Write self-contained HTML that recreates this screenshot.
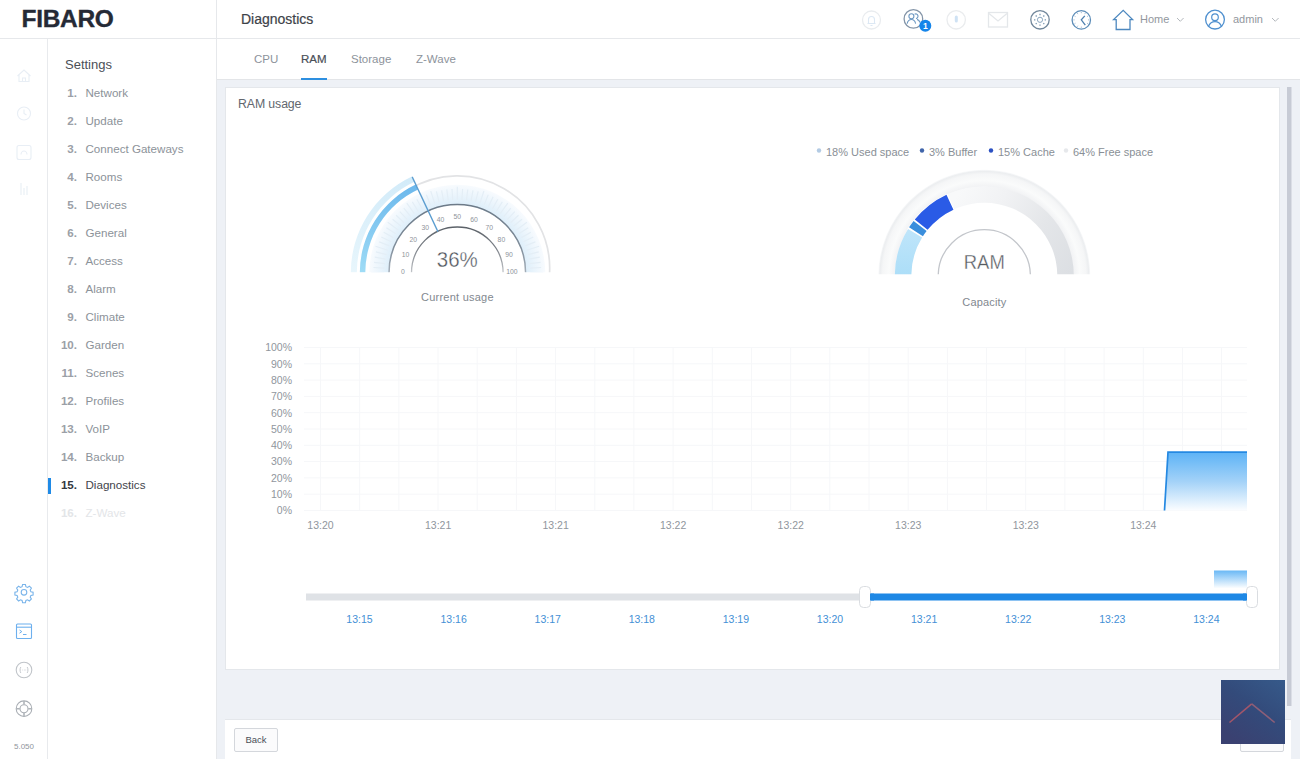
<!DOCTYPE html>
<html><head><meta charset="utf-8">
<style>
*{box-sizing:border-box;margin:0;padding:0}
html,body{width:1300px;height:759px;overflow:hidden;background:#fff;font-family:"Liberation Sans",sans-serif;color:#4b5058}
.abs{position:absolute}
#hdr{position:absolute;left:0;top:0;width:1300px;height:39px;border-bottom:1px solid #e6e8eb;background:#fff}
#logo{position:absolute;left:21.5px;top:5px;font-size:24.5px;font-weight:bold;color:#252a36;letter-spacing:-0.3px;-webkit-text-stroke:0.35px #252a36}
#rail{position:absolute;left:0;top:39px;width:48px;height:720px;border-right:1px solid #e8eaed;background:#fff}
#menu{position:absolute;left:48px;top:39px;width:169px;height:720px;border-right:1px solid #e6e8eb;background:#fff}
#main{position:absolute;left:217px;top:39px;width:1083px;height:720px;background:#eef1f6}
#tabs{position:absolute;left:0;top:0;width:1083px;height:41px;background:#fff;border-bottom:1px solid #e3e5e8}
.tab{position:absolute;top:14px;font-size:11.5px;color:#8d939b}
#card{position:absolute;left:8px;top:48px;width:1055px;height:583px;background:#fff;border:1px solid #e4e7eb}
#foot{position:absolute;left:8px;top:680px;width:1066px;height:41px;background:#fff;border-top:1px solid #e4e7eb}
.mi{position:absolute;left:0;width:160px;height:16px;font-size:11.6px;color:#8c9299;white-space:nowrap}
.mi b{position:absolute;right:131px;top:0;font-weight:bold;color:#9ba0a7}
.mi span{position:absolute;left:37.5px;top:0}
svg{position:absolute;left:0;top:0}
.hi{position:absolute}
</style></head><body>
<div id="hdr">
  <div id="logo">FIBARO</div>
  <div class="abs" style="left:216px;top:0;width:1px;height:39px;background:#e6e8eb"></div>
  <div class="abs" style="left:241px;top:11px;font-size:14px;color:#3d4249;-webkit-text-stroke:0.2px #3d4249">Diagnostics</div>
  <div class="abs" style="left:1140px;top:13px;font-size:11px;color:#92979e">Home</div>
  <div class="abs" style="left:1233px;top:13px;font-size:11px;color:#92979e">admin</div>
</div>
<div id="rail"></div>
<div id="menu">
  <div class="abs" style="left:17px;top:18px;font-size:13px;color:#4b5058">Settings</div>
  <div class="mi" style="top:47px"><b>1.</b><span>Network</span></div>
  <div class="mi" style="top:75px"><b>2.</b><span>Update</span></div>
  <div class="mi" style="top:103px"><b>3.</b><span>Connect Gateways</span></div>
  <div class="mi" style="top:131px"><b>4.</b><span>Rooms</span></div>
  <div class="mi" style="top:159px"><b>5.</b><span>Devices</span></div>
  <div class="mi" style="top:187px"><b>6.</b><span>General</span></div>
  <div class="mi" style="top:215px"><b>7.</b><span>Access</span></div>
  <div class="mi" style="top:243px"><b>8.</b><span>Alarm</span></div>
  <div class="mi" style="top:271px"><b>9.</b><span>Climate</span></div>
  <div class="mi" style="top:299px"><b>10.</b><span>Garden</span></div>
  <div class="mi" style="top:327px"><b>11.</b><span>Scenes</span></div>
  <div class="mi" style="top:355px"><b>12.</b><span>Profiles</span></div>
  <div class="mi" style="top:383px"><b>13.</b><span>VoIP</span></div>
  <div class="mi" style="top:411px"><b>14.</b><span>Backup</span></div>
  <div class="mi" style="top:439px;color:#3f444b"><b style="color:#33383f">15.</b><span>Diagnostics</span></div>
  <div class="abs" style="left:0;top:439px;width:2.5px;height:16px;background:#1f8ae6"></div>
  <div class="mi" style="top:467px;color:#e3e5e8"><b style="color:#e3e5e8">16.</b><span>Z-Wave</span></div>
</div>
<div id="main">
  <div id="tabs">
    <div class="tab" style="left:37px">CPU</div>
    <div class="tab" style="left:84px;color:#4a4f57;-webkit-text-stroke:0.2px #4a4f57">RAM</div>
    <div class="abs" style="left:84px;top:39px;width:26px;height:2px;background:#2d8fe0"></div>
    <div class="tab" style="left:134px">Storage</div>
    <div class="tab" style="left:199px">Z-Wave</div>
  </div>
  <div id="card">
    <div class="abs" style="left:12px;top:9px;font-size:12.3px;color:#62676e;letter-spacing:-0.1px">RAM usage</div>
  </div>
  <div id="foot">
    <div class="abs" style="left:9px;top:8px;width:44px;height:24px;border:1px solid #d4d7dc;border-radius:2px;background:#fbfbfc;font-size:9.5px;color:#4b5058;text-align:center;line-height:22px">Back</div>
    <div class="abs" style="left:1015px;top:8px;width:44px;height:24px;border:1px solid #d4d7dc;border-radius:2px;background:#fbfbfc"></div>
  </div>
</div>
<svg width="1300" height="759" viewBox="0 0 1300 759" font-family="Liberation Sans, sans-serif">
<g clip-path="url(#clipL)"><defs><radialGradient id="gl1" gradientUnits="userSpaceOnUse" cx="457.3" cy="272.8" r="88"><stop offset="0.77" stop-color="#ddeefa"/><stop offset="0.87" stop-color="#e9f4fc"/><stop offset="1" stop-color="#f8fbfe"/></radialGradient><linearGradient id="gl2" x1="0" y1="1" x2="0" y2="0"><stop offset="0" stop-color="#9fdcf6"/><stop offset="1" stop-color="#6cb8ec"/></linearGradient><linearGradient id="gl3" x1="0" y1="1" x2="0" y2="0"><stop offset="0" stop-color="#e8f6fc"/><stop offset="1" stop-color="#d2ebf9"/></linearGradient></defs><path d="M369.30 272.80A88 88 0 0 1 545.30 272.80L525.30 272.80A68 68 0 0 0 389.30 272.80Z" fill="url(#gl1)"/><path d="M408.34 189.94A92.4 92.4 0 0 1 549.57 273.14" fill="none" stroke="#e2e3e5" stroke-width="1.7"/><path d="M350.80 272.80A106.5 106.5 0 0 1 411.95 176.44L414.51 181.86A100.5 100.5 0 0 0 356.80 272.80Z" fill="url(#gl3)"/><path d="M359.80 272.80A97.5 97.5 0 0 1 415.79 184.58L418.13 189.56A92 92 0 0 0 365.30 272.80Z" fill="url(#gl2)"/><path d="M384.3 272.8L371.3 272.8 M384.4 268.2L373.5 267.5 M384.9 263.7L374.0 262.3 M385.6 259.1L374.8 257.1 M386.6 254.6L375.9 251.9 M387.9 250.2L375.5 246.2 M389.4 245.9L379.2 241.9 M391.2 241.7L381.3 237.0 M393.3 237.6L383.7 232.3 M395.7 233.7L386.4 227.8 M398.2 229.9L387.7 222.3 M401.1 226.3L392.6 219.3 M404.1 222.8L396.1 215.3 M407.3 219.6L399.8 211.6 M410.8 216.6L403.8 208.1 M414.4 213.7L406.8 203.2 M418.2 211.2L412.3 201.9 M422.1 208.8L416.8 199.2 M426.2 206.7L421.5 196.8 M430.4 204.9L426.4 194.7 M434.7 203.4L430.7 191.0 M439.1 202.1L436.4 191.4 M443.6 201.1L441.6 190.3 M448.2 200.4L446.8 189.5 M452.7 199.9L452.0 189.0 M457.3 199.8L457.3 186.8 M461.9 199.9L462.6 189.0 M466.4 200.4L467.8 189.5 M471.0 201.1L473.0 190.3 M475.5 202.1L478.2 191.4 M479.9 203.4L483.9 191.0 M484.2 204.9L488.2 194.7 M488.4 206.7L493.1 196.8 M492.5 208.8L497.8 199.2 M496.4 211.2L502.3 201.9 M500.2 213.7L507.8 203.2 M503.8 216.6L510.8 208.1 M507.3 219.6L514.8 211.6 M510.5 222.8L518.5 215.3 M513.5 226.3L522.0 219.3 M516.4 229.9L526.9 222.3 M518.9 233.7L528.2 227.8 M521.3 237.6L530.9 232.3 M523.4 241.7L533.3 237.0 M525.2 245.9L535.4 241.9 M526.7 250.2L539.1 246.2 M528.0 254.6L538.7 251.9 M529.0 259.1L539.8 257.1 M529.7 263.7L540.6 262.3 M530.2 268.2L541.1 267.5 M530.3 272.8L543.3 272.8" stroke="#e4eef6" stroke-width="1.2"/><path d="M389.00 272.80A68.3 68.3 0 0 1 525.60 272.80" fill="none" stroke="url(#gdr)" stroke-width="1.5"/><defs><linearGradient id="gir" gradientUnits="userSpaceOnUse" x1="0" y1="227" x2="0" y2="273"><stop offset="0" stop-color="#5b6168"/><stop offset="0.5" stop-color="#80858c"/><stop offset="1" stop-color="#c3c6ca"/></linearGradient><linearGradient id="gdr" gradientUnits="userSpaceOnUse" x1="0" y1="204" x2="0" y2="273"><stop offset="0" stop-color="#6c7a88"/><stop offset="0.6" stop-color="#7f8c99"/><stop offset="1" stop-color="#a5afb9"/></linearGradient><clipPath id="clipL"><rect x="300" y="150" width="320" height="122.3"/></clipPath><clipPath id="clipR"><rect x="850" y="150" width="280" height="124.2"/></clipPath></defs><path d="M411.50 272.80A45.8 45.8 0 0 1 503.10 272.80" fill="none" stroke="url(#gir)" stroke-width="1.3"/><path d="M412.2 176.9L437.9 231.6" stroke="#5b9dd0" stroke-width="1.3"/></g><g font-size="6.8" fill="#8e949a" text-anchor="middle"><text x="402.8" y="273.8">0</text><text x="405.5" y="257.0">10</text><text x="413.2" y="241.8">20</text><text x="425.3" y="229.7">30</text><text x="440.5" y="222.0">40</text><text x="457.3" y="219.3">50</text><text x="474.1" y="222.0">60</text><text x="489.3" y="229.7">70</text><text x="501.4" y="241.8">80</text><text x="509.1" y="257.0">90</text><text x="511.8" y="273.8">100</text></g><text x="457.3" y="266.6" font-size="22" fill="#50555c" stroke="#fff" stroke-width="0.35" text-anchor="middle" textLength="41" lengthAdjust="spacingAndGlyphs">36%</text><text x="457.3" y="301.3" font-size="11" fill="#82888f" text-anchor="middle" textLength="72.5" lengthAdjust="spacing">Current usage</text>
<g clip-path="url(#clipR)"><defs><linearGradient id="gr1" gradientUnits="userSpaceOnUse" x1="960" y1="190" x2="1078" y2="260"><stop offset="0" stop-color="#f8f9fa"/><stop offset="0.3" stop-color="#f1f2f4"/><stop offset="0.65" stop-color="#e4e6e9"/><stop offset="1" stop-color="#dcdfe3"/></linearGradient><radialGradient id="gr2" gradientUnits="userSpaceOnUse" cx="984.3" cy="275.8" r="106"><stop offset="0.84" stop-color="#f1f2f4"/><stop offset="0.9" stop-color="#fafbfb"/><stop offset="0.96" stop-color="#f5f6f7"/><stop offset="0.985" stop-color="#eceef0"/><stop offset="1" stop-color="#f9fafb"/></radialGradient><linearGradient id="gr3" x1="0" y1="1" x2="0" y2="0"><stop offset="0" stop-color="#acdef8"/><stop offset="1" stop-color="#bfe5fa"/></linearGradient></defs><path d="M878.30 275.80A106 106 0 0 1 1090.30 275.80L1073.30 275.80A89 89 0 0 0 895.30 275.80Z" fill="url(#gr2)"/><path d="M894.80 275.80A89.5 89.5 0 0 1 1073.80 275.80L1057.30 275.80A73 73 0 0 0 911.30 275.80Z" fill="url(#gr1)"/><path d="M906.99 229.72A90 90 0 0 1 947.41 193.71L954.58 209.67A72.5 72.5 0 0 0 922.03 238.68Z" fill="#fff"/><path d="M894.80 275.80A89.5 89.5 0 0 1 908.07 228.90L922.12 237.55A73 73 0 0 0 911.30 275.80Z" fill="url(#gr3)"/><path d="M909.07 227.32A89.5 89.5 0 0 1 913.58 220.94L926.62 231.06A73 73 0 0 0 922.94 236.26Z" fill="#3a8edc"/><path d="M914.75 219.48A89.5 89.5 0 0 1 946.48 194.69L953.45 209.64A73 73 0 0 0 927.57 229.86Z" fill="#2a5be6"/><path d="M938.20 275.80A46.1 46.1 0 0 1 1030.40 275.80" fill="none" stroke="#c3c6cb" stroke-width="1.3"/></g><text x="984.3" y="268.9" font-size="21" fill="#565b62" stroke="#fff" stroke-width="0.35" text-anchor="middle" textLength="41" lengthAdjust="spacingAndGlyphs">RAM</text><text x="984.3" y="305.5" font-size="11" fill="#82888f" text-anchor="middle" textLength="44" lengthAdjust="spacing">Capacity</text><circle cx="819" cy="150.5" r="2.2" fill="#b3cbe4"/><text x="826" y="156" font-size="11" fill="#898f96">18% Used space</text><circle cx="922" cy="150.5" r="2.2" fill="#4065aa"/><text x="929" y="156" font-size="11" fill="#898f96">3% Buffer</text><circle cx="991" cy="150.5" r="2.2" fill="#2b50c2"/><text x="998" y="156" font-size="11" fill="#898f96">15% Cache</text><circle cx="1066" cy="150.5" r="2.2" fill="#e6e8eb"/><text x="1073" y="156" font-size="11" fill="#898f96">64% Free space</text>
<path d="M304 510.5H1247 M304 494.2H1247 M304 477.9H1247 M304 461.6H1247 M304 445.3H1247 M304 429.0H1247 M304 412.7H1247 M304 396.4H1247 M304 380.1H1247 M304 363.8H1247 M304 347.5H1247 M320.5 347V510 M359.7 347V510 M398.9 347V510 M438.0 347V510 M477.2 347V510 M516.4 347V510 M555.6 347V510 M594.8 347V510 M633.9 347V510 M673.1 347V510 M712.3 347V510 M751.5 347V510 M790.7 347V510 M829.8 347V510 M869.0 347V510 M908.2 347V510 M947.4 347V510 M986.6 347V510 M1025.7 347V510 M1064.9 347V510 M1104.1 347V510 M1143.3 347V510 M1182.5 347V510 M1221.6 347V510" stroke="#f6f7f9" stroke-width="1" fill="none"/><g font-size="10.5" fill="#90969d" text-anchor="end"><text x="292" y="514.3">0%</text><text x="292" y="498.0">10%</text><text x="292" y="481.7">20%</text><text x="292" y="465.4">30%</text><text x="292" y="449.1">40%</text><text x="292" y="432.8">50%</text><text x="292" y="416.5">60%</text><text x="292" y="400.2">70%</text><text x="292" y="383.9">80%</text><text x="292" y="367.6">90%</text><text x="292" y="351.3">100%</text></g><g font-size="10.5" fill="#90969d" text-anchor="middle"><text x="320.5" y="529">13:20</text><text x="438.1" y="529">13:21</text><text x="555.6" y="529">13:21</text><text x="673.1" y="529">13:22</text><text x="790.7" y="529">13:22</text><text x="908.2" y="529">13:23</text><text x="1025.8" y="529">13:23</text><text x="1143.3" y="529">13:24</text></g><defs><linearGradient id="cg" x1="0" y1="0" x2="0" y2="1"><stop offset="0" stop-color="#5db3f6"/><stop offset="0.5" stop-color="#a3d2f8"/><stop offset="1" stop-color="#fbfdff"/></linearGradient></defs><path d="M1164.5 510.5L1168 452.2H1247V510.5Z" fill="url(#cg)"/><path d="M1164.5 510.5L1168 452.2H1247" fill="none" stroke="#2589e2" stroke-width="1.7"/><defs><linearGradient id="ng" x1="0" y1="0" x2="0" y2="1"><stop offset="0" stop-color="#6ab8f5"/><stop offset="1" stop-color="#ffffff"/></linearGradient></defs><rect x="1214" y="570.5" width="33" height="18" fill="url(#ng)"/><rect x="306" y="593.5" width="556" height="7" fill="#dfe2e6"/><rect x="866" y="593.5" width="381" height="7" fill="#1e88e5"/><rect x="859.5" y="586.5" width="11" height="21" rx="4" fill="#fff" stroke="#dadde1"/><rect x="870" y="593.5" width="4" height="7" fill="#1e88e5"/><rect x="1246.5" y="586.5" width="11" height="21" rx="4" fill="#fff" stroke="#dadde1"/><rect x="1243" y="593.5" width="4" height="7" fill="#1e88e5"/><g font-size="10.5" fill="#4490d6" text-anchor="middle"><text x="359.5" y="623">13:15</text><text x="453.6" y="623">13:16</text><text x="547.7" y="623">13:17</text><text x="641.8" y="623">13:18</text><text x="735.9" y="623">13:19</text><text x="830.0" y="623">13:20</text><text x="924.1" y="623">13:21</text><text x="1018.2" y="623">13:22</text><text x="1112.3" y="623">13:23</text><text x="1206.4" y="623">13:24</text></g>
</svg>
<svg width="1300" height="759" viewBox="0 0 1300 759" style="z-index:2">
<!-- header icons -->
<g fill="none" stroke-width="1.3">
 <circle cx="871.5" cy="20" r="9" stroke="#e9ecef"/>
 <path d="M867.5 23.5h8M868.5 23.5v-4a3 3 0 0 1 6 0v4M870.5 25.5h2" stroke="#dce8f4" stroke-width="1.1"/>
 <circle cx="913.4" cy="18.9" r="9.3" stroke="#8495a8"/>
 <circle cx="911.4" cy="16.3" r="2.5" stroke="#6d98c2" stroke-width="1.1"/>
 <path d="M907.2 23.6c0.5-2.6 2.1-4.1 4.2-4.1s3.7 1.5 4.2 4.1M914.6 14.2a2.3 2.3 0 1 1 1.4 4.3M917 19.4c1.5 0.4 2.5 1.4 3 3.1" stroke="#6d98c2" stroke-width="1.1"/>
 <circle cx="925.3" cy="25.8" r="6" fill="#1585ea" stroke="none"/>
 <circle cx="956.2" cy="19.8" r="9.2" stroke="#eaecee"/>
 <rect x="954.8" y="15.5" width="3" height="7" rx="1.5" fill="#cfe2f4" stroke="none"/>
 <rect x="988.5" y="12.5" width="19" height="14.5" stroke="#e4e7ea"/>
 <path d="M989 13.5l9 7.5l9-7.5" stroke="#e4e7ea"/>
 <circle cx="1040" cy="19.8" r="9.2" stroke="#71879b"/>
 <circle cx="1040" cy="19.8" r="2.6" stroke="#8aa6be" stroke-width="1"/>
 <path d="M1040 15.2v-1.4M1040 24.4v1.4M1035.4 19.8h-1.4M1044.6 19.8h1.4M1036.7 16.5l-1-1M1043.3 23.1l1 1M1036.7 23.1l-1 1M1043.3 16.5l1-1" stroke="#7e9ab3" stroke-width="1.3"/>
 <circle cx="1081.3" cy="19.9" r="9.2" stroke="#5d8db8"/>
 <path d="M1084.8 15.8l-3.5 4.1l4 5.3" stroke="#4d7fae" stroke-width="1.3"/>
 <path d="M1081.3 12v1.2M1081.3 26.6v1.2M1073.4 19.9h1.2M1088 19.9h1.2M1077.3 13.1l0.6 1M1085.3 13.1l-0.6 1M1077.3 26.7l0.6-1M1074.5 16l1 0.6M1074.5 23.8l1-0.6M1088.1 16l-1 0.6M1088.1 23.8l-1-0.6" stroke="#9ab6d0" stroke-width="0.9"/>
 <path d="M1116.2 29.5V19.6h-2.6l9.6-9.2l9.4 9.2h-2.6v9.9z" stroke="#4d88bf" stroke-linejoin="miter"/>
 <path d="M1177 18l3.3 3.3l3.3-3.3" stroke="#b4b8bd" stroke-width="1"/>
 <circle cx="1215" cy="19.6" r="9.4" stroke="#4f90cf"/>
 <circle cx="1215" cy="17.2" r="3.3" stroke="#4f90cf" stroke-width="1.2"/>
 <path d="M1208.6 26.3c1.2-3 3.6-4.6 6.4-4.6s5.2 1.6 6.4 4.6" stroke="#4f90cf" stroke-width="1.2"/>
 <path d="M1272 18l3.3 3.3l3.3-3.3" stroke="#b4b8bd" stroke-width="1"/>
</g>
<text x="925.3" y="29.2" font-size="8.5" font-weight="bold" fill="#fff" text-anchor="middle" font-family="Liberation Sans, sans-serif">1</text>
<!-- rail icons top (faint) -->
<g fill="none" stroke="#e8eef5" stroke-width="1.1">
 <path d="M17.5 76l6.5-6l6.5 6M19 74.5v7h10v-7M22.5 81.5v-3.5h3v3.5"/>
 <circle cx="24" cy="113.5" r="6.5"/>
 <path d="M24 109.5v4l2.5 1.5"/>
 <rect x="17" y="145.5" width="14" height="14" rx="2"/>
 <path d="M21 154.5c0-2 1.5-3.5 3-3.5s3 1.5 3 3.5"/>
 <path d="M21 183v12M27 186v9M24 188v7"/>
</g>
<!-- rail icons bottom -->
<g fill="none" stroke-width="1.1">
 <path d="M22.6 584.5h2.8l0.5 2.2l1.6 0.7l1.9-1.2l2 2l-1.2 1.9l0.7 1.6l2.2 0.5v2.8l-2.2 0.5l-0.7 1.6l1.2 1.9l-2 2l-1.9-1.2l-1.6 0.7l-0.5 2.2h-2.8l-0.5-2.2l-1.6-0.7l-1.9 1.2l-2-2l1.2-1.9l-0.7-1.6l-2.2-0.5v-2.8l2.2-0.5l0.7-1.6l-1.2-1.9l2-2l1.9 1.2l1.6-0.7z" stroke="#79b4ea"/>
 <circle cx="24" cy="592.3" r="2.8" stroke="#79b4ea"/>
 <rect x="16.5" y="624" width="15" height="14.5" rx="1" stroke="#6db0ee"/>
 <path d="M16.5 627.2h15" stroke="#6db0ee"/>
 <path d="M19.5 630l2.3 1.6l-2.3 1.6M23 634.5h3.5" stroke="#6db0ee" stroke-width="1"/>
 <circle cx="24" cy="670" r="7.8" stroke="#c0c4c9"/>
 <path d="M20.8 667c-1 1.8-1 4.2 0 6M27.2 667c1 1.8 1 4.2 0 6" stroke="#c0c4c9" stroke-width="0.9"/>
 <path d="M22.5 670h0.6M24 670h0.6M25.5 670h0.6" stroke="#c0c4c9" stroke-width="0.9"/>
 <circle cx="24" cy="708.7" r="7.8" stroke="#a9aeb4"/>
 <circle cx="24" cy="708.7" r="4" stroke="#a9aeb4"/>
 <path d="M24 700.9v3.6M24 712.9v3.6M16.2 708.7h3.6M28.2 708.7h3.6" stroke="#b0b5ba" stroke-width="1.6"/>
</g>
<text x="24" y="749" font-size="8" fill="#8f959c" text-anchor="middle" font-family="Liberation Sans, sans-serif">5.050</text>
<!-- scrollbar -->

<rect x="1287" y="87" width="4.5" height="619" fill="#c7cbd5"/>
<!-- dark square -->
<defs><linearGradient id="dsq" x1="1" y1="0" x2="0.3" y2="1"><stop offset="0" stop-color="#365a8a"/><stop offset="0.5" stop-color="#334b7b"/><stop offset="1" stop-color="#3a4171"/></linearGradient></defs>
<rect x="1221" y="680" width="64" height="64" fill="url(#dsq)"/>
<path d="M1229.5 722.5l22.2-18.7" fill="none" stroke="#a3566a" stroke-width="1.6"/><path d="M1251.7 703.8l23 18.7" fill="none" stroke="#8d5f78" stroke-width="1.6"/>
</svg>
</body></html>
